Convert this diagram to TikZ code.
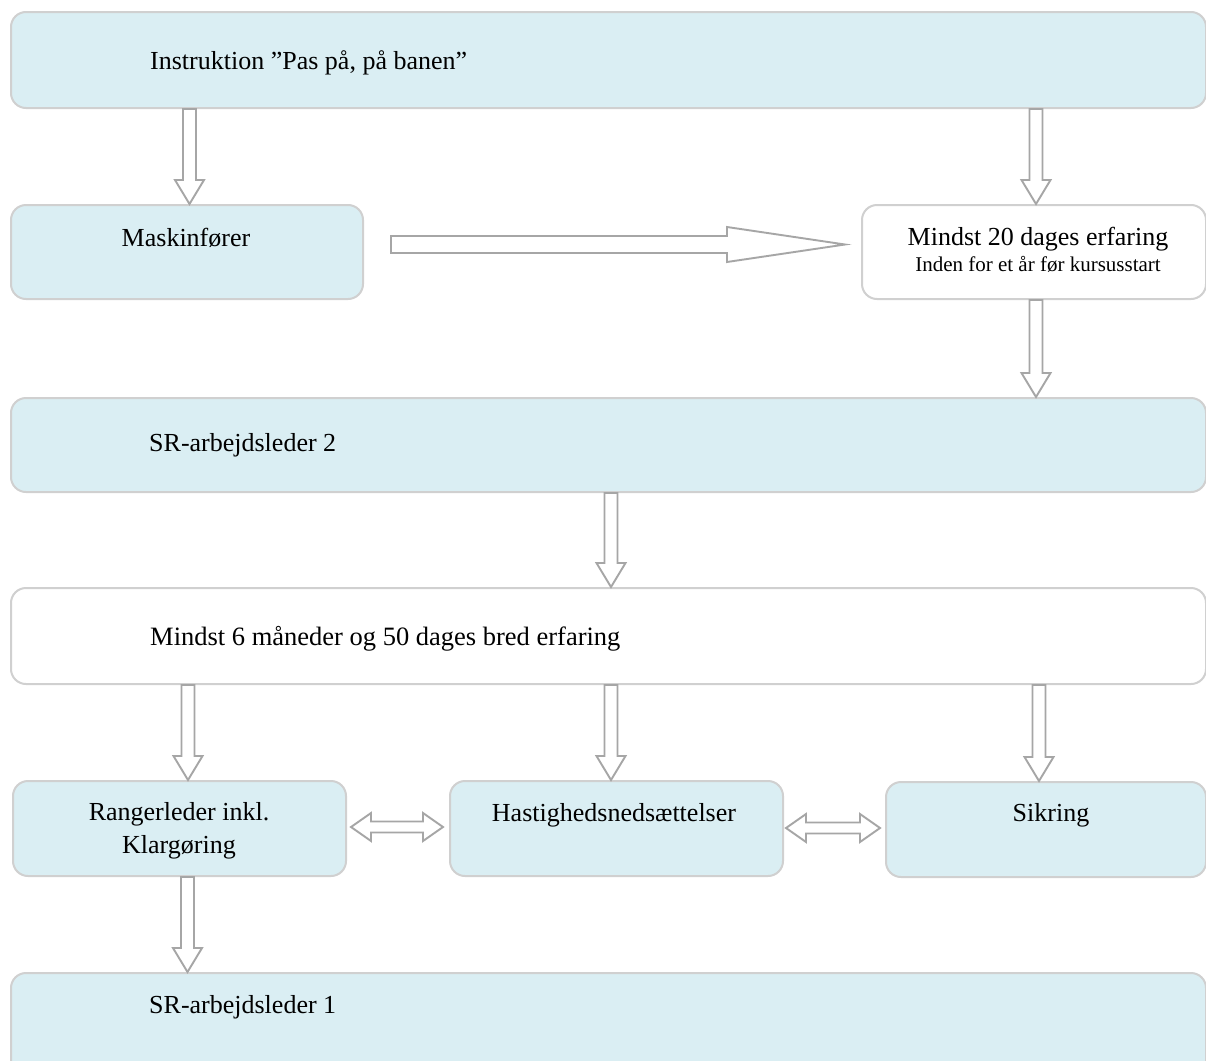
\documentclass[tikz,border=0pt]{standalone}
\usepackage{fontspec}
\setmainfont{Liberation Serif}
\usetikzlibrary{calc}
\definecolor{boxfill}{HTML}{DAEEF3}
\definecolor{boxline}{HTML}{D0D0D0}
\definecolor{arrline}{HTML}{A6A6A6}
\tikzset{
  boxbase/.style={draw=boxline, line width=2pt, rounded corners=15pt, inner sep=0pt, anchor=north west},
  bluebox/.style={boxbase, fill=boxfill},
  whitebox/.style={boxbase, fill=white},
  txt/.style={inner sep=0pt, font=\fontsize{26}{33}\selectfont},
  smalltxt/.style={inner sep=0pt, font=\fontsize{21}{26}\selectfont},
  blockarr/.style={draw=arrline, line width=1.9pt, fill=white, line join=miter},
}
% vertical block arrow: #1 from node, #2 to node, #3 x position
\newcommand\vblockarrow[3]{%
  \coordinate (#1-#2-s) at (#1.south -| #3,0);
  \coordinate (#1-#2-t) at (#2.north -| #3,0);
  \draw[blockarr] ([xshift=-6.5pt]#1-#2-s) -- ([xshift=-6.5pt,yshift=24pt]#1-#2-t)
    -- ([xshift=-14.5pt,yshift=24pt]#1-#2-t) -- (#1-#2-t)
    -- ([xshift=14.5pt,yshift=24pt]#1-#2-t) -- ([xshift=6.5pt,yshift=24pt]#1-#2-t)
    -- ([xshift=6.5pt]#1-#2-s) -- cycle;}
% horizontal double block arrow between coordinates #1 (left tip) and #2 (right tip)
\newcommand\hdoublearrow[2]{%
  \draw[blockarr] (#1) -- ([xshift=20pt,yshift=14pt]#1) -- ([xshift=20pt,yshift=5.5pt]#1)
    -- ([xshift=-20pt,yshift=5.5pt]#2) -- ([xshift=-20pt,yshift=14pt]#2) -- (#2)
    -- ([xshift=-20pt,yshift=-14pt]#2) -- ([xshift=-20pt,yshift=-5.5pt]#2)
    -- ([xshift=20pt,yshift=-5.5pt]#1) -- ([xshift=20pt,yshift=-14pt]#1) -- cycle;}
\begin{document}
\begin{tikzpicture}[x=1pt,y=-1pt]
\useasboundingbox (0,0) rectangle (1206,1060);
\clip (0,0) rectangle (1206,1060);
\fill[white] (0,0) rectangle (1206,1060);

% boxes
\node[bluebox, minimum width=1195pt, minimum height=96pt] (top) at (10,11) {};
\node[bluebox, minimum width=352pt, minimum height=94pt] (mask) at (10,204) {};
\node[whitebox, minimum width=344pt, minimum height=94pt] (m20) at (861,204) {};
\node[bluebox, minimum width=1195pt, minimum height=94pt] (sr2) at (10,397) {};
\node[whitebox, minimum width=1195pt, minimum height=96pt] (m6) at (10,587) {};
\node[bluebox, minimum width=333pt, minimum height=95pt] (rang) at (12,780) {};
\node[bluebox, minimum width=333pt, minimum height=95pt] (hast) at (449,780) {};
\node[bluebox, minimum width=320pt, minimum height=95pt] (sik) at (885,781) {};
\node[bluebox, minimum width=1195pt, minimum height=110pt] (sr1) at (10,972) {};

% texts
\node[txt, anchor=base west] (ttop) at (150,69) {Instruktion ”Pas på, på banen”};
\node[txt, anchor=base] (tmask) at (186,246) {Maskinfører};
\node[txt, anchor=base] (tm20) at (1038,245) {Mindst 20 dages erfaring};
\node[smalltxt, anchor=base] (tm20b) at (1038,271) {Inden for et år før kursusstart};
\node[txt, anchor=base west] (tsr2) at (149,451) {SR-arbejdsleder 2};
\node[txt, anchor=base west, font=\fontsize{26.5}{33}\selectfont] (tm6) at (150,645) {Mindst 6 måneder og 50 dages bred erfaring};
\node[txt, anchor=base] (trang1) at (179,820) {Rangerleder inkl.};
\node[txt, anchor=base] (trang2) at (179,853) {Klargøring};
\node[txt, anchor=base] (thast) at (614,821) {Hastighedsnedsættelser};
\node[txt, anchor=base] (tsik) at (1051,821) {Sikring};
\node[txt, anchor=base west] (tsr1) at (149,1013) {SR-arbejdsleder 1};

% vertical arrows
\vblockarrow{top}{mask}{189.5}
\vblockarrow{top}{m20}{1036}
\vblockarrow{m20}{sr2}{1036}
\vblockarrow{sr2}{m6}{611}
\vblockarrow{m6}{rang}{188}
\vblockarrow{m6}{hast}{611}
\vblockarrow{m6}{sik}{1039}
\vblockarrow{rang}{sr1}{187.5}

% horizontal arrow Maskinfører -> Mindst 20
\coordinate (hs) at (391,244.5);
\coordinate (ht) at (845,244.5);
\draw[blockarr] ([yshift=8.5pt]hs) -- ([xshift=-118pt,yshift=8.5pt]ht) -- ([xshift=-118pt,yshift=17.5pt]ht)
  -- (ht) -- ([xshift=-118pt,yshift=-17.5pt]ht) -- ([xshift=-118pt,yshift=-8.5pt]ht)
  -- ([yshift=-8.5pt]hs) -- cycle;

% double arrows
\coordinate (d1l) at (351,827);
\coordinate (d1r) at (443,827);
\hdoublearrow{d1l}{d1r}
\coordinate (d2l) at (786,828);
\coordinate (d2r) at (880,828);
\hdoublearrow{d2l}{d2r}
\end{tikzpicture}
\end{document}
